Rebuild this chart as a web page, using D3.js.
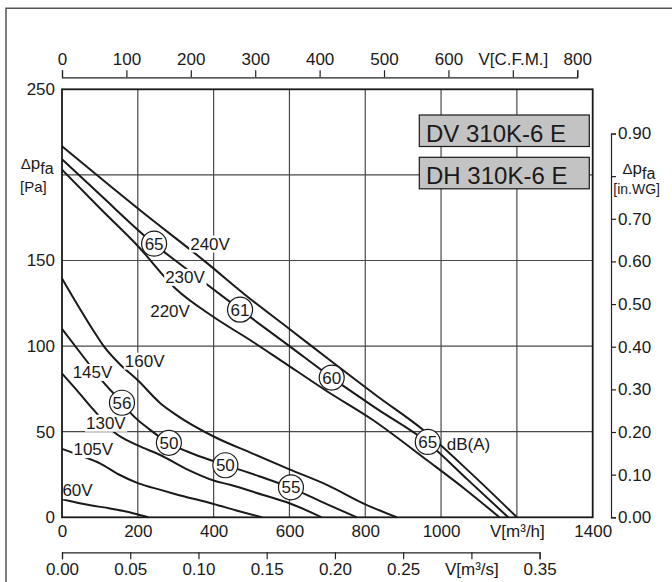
<!DOCTYPE html>
<html><head><meta charset="utf-8">
<script src="https://cdn.jsdelivr.net/npm/d3@7"></script>
<style>
body{margin:0;background:#fff}
svg{display:block;font-family:"Liberation Sans",Arial,Helvetica,sans-serif}
</style>
</head><body>
<svg id="chart" width="672" height="582"></svg>
<script>
// ---------------- data ----------------
const flowTicks = [0, 200, 400, 600, 800, 1000, 1200, 1400];
const flowTickLabels = ["0", "200", "400", "600", "800", "1000", "V[m³/h]", "1400"];
const paTicks = [0, 50, 100, 150, 200, 250];
const paTickLabels = ["0", "50", "100", "150", "", "250"];
const cfmTicks = [0, 100, 200, 300, 400, 500, 600, 700, 800];
const cfmTickLabels = ["0", "100", "200", "300", "400", "500", "600", "V[C.F.M.]", "800"];
const m3sTicks = [0, 0.05, 0.10, 0.15, 0.20, 0.25, 0.30, 0.35];
const m3sTickLabels = ["0.00", "0.05", "0.10", "0.15", "0.20", "0.25", "V[m³/s]", "0.35"];
const inwgTicks = [0, 0.1, 0.2, 0.3, 0.4, 0.5, 0.6, 0.7, 0.8, 0.9];
const inwgTickLabels = ["0.00", "0.10", "0.20", "0.30", "0.40", "0.50", "0.60", "0.70", "", "0.90"];
const modelNames = ["DV 310K-6 E", "DH 310K-6 E"];

// fan curves: [flow m³/h, static pressure Pa]
const curve240V = [[0,216.7],[100,198.5],[206,179.3],[377,149.5],[496,127.7],[600,110],[707,91.7],[830,71],[953,51],[1080,25.5],[1200,0]];
const curve230V = [[0,209.1],[100,188.5],[241,160],[350,141.5],[470,121.3],[600,100],[711.5,81.6],[830,63.5],[965,43.6],[1070,22],[1177,0]];
const curve220V = [[0,203.1],[100,180.5],[200,158.5],[300,133.5],[400,117],[500,103],[575,92],[700,73.5],[821,56.7],[965,33],[1060,17],[1154,0]];
const curve160V = [[0,139.5],[34,126.7],[83,109],[110,100],[150,90],[200,80],[260,66.5],[300,60],[400,47.2],[500,37.5],[600,28],[700,18.8],[800,7.6],[883,0]];
const curve145V = [[0,110],[66,91],[105,80],[158,67],[185,60],[230,51.5],[281,43.5],[347,37],[430,30.6],[520,24],[604,17.2],[700,7.5],[778,0]];
const curve130V = [[0,84],[40,74],[83.5,62.7],[136,50],[200,42],[259,36.4],[330,28],[400,21.5],[443.5,19],[531,13],[600,8.2],[685,0]];
const curve105V = [[0,40],[50,36],[100,31.5],[150,25],[200,20],[260,16],[300,13.5],[400,7.8],[460,4],[527,0]];
const curve60V  = [[0,10.5],[40,8.5],[75,7],[127,5.2],[160,3.8],[200,1.6],[228,0]];
const curves = [curve240V, curve230V, curve220V, curve160V, curve145V, curve130V, curve105V, curve60V];

// voltage labels (anchor in data units)
const voltNames = ["240V", "230V", "220V", "160V", "145V", "130V", "105V", "60V"];
const voltLabelFlow = [390.5, 324.5, 285, 218, 80.5, 115.6, 82.6, 40.9];
const voltLabelPa   = [159.9, 140.4, 120.6, 91.5, 84.9, 55.2, 39.8, 15.8];

// sound levels dB(A) on the curves
const soundLevels = ["65", "61", "60", "65", "56", "50", "50", "55"];
const soundFlow   = [243, 469.7, 711.5, 965, 158.2, 282, 431, 604];
const soundPa     = [159.8, 121.3, 81.6, 44, 66.9, 43.5, 30.4, 17.5];
const soundUnit = "dB(A)";
const soundUnitFlow = 1015, soundUnitPa = 43;

// ---------------- scales ----------------
const M3H_PER_CFM = 1.699, PA_PER_INWG = 249.09;
const x = d3.scaleLinear().domain([0, 1400]).range([62, 592.7]);
const y = d3.scaleLinear().domain([0, 250]).range([517.3, 89.3]);
const xCfm = d3.scaleLinear().domain([0, 800]).range([x(0), x(800 * M3H_PER_CFM)]);
const xM3s = d3.scaleLinear().domain([0, 0.35]).range([x(0), x(0.35 * 3600)]);
const yIn = d3.scaleLinear().domain([0, 0.9]).range([y(0), y(0.9 * PA_PER_INWG)]);

const svg = d3.select("#chart");
const INK = "#1a1a1a";

// outer frame
svg.append("path").attr("d", "M6,582V8.3H672").attr("fill", "none").attr("stroke", "#555").attr("stroke-width", 1.5);

// grid
const grid = svg.append("g").attr("stroke", "#484848").attr("stroke-width", 1.2);
grid.selectAll("line.v").data(flowTicks.slice(1, -1)).join("line")
  .attr("x1", d => x(d)).attr("x2", d => x(d)).attr("y1", y(250)).attr("y2", y(0));
grid.selectAll("line.h").data(paTicks.slice(1, -1)).join("line")
  .attr("x1", x(0)).attr("x2", x(1400)).attr("y1", d => y(d)).attr("y2", d => y(d));

// curves
const line = d3.line().x(d => x(d[0])).y(d => y(d[1])).curve(d3.curveMonotoneX);
svg.append("g").selectAll("path").data(curves).join("path")
  .attr("d", line).attr("fill", "none").attr("stroke", INK).attr("stroke-width", 2).attr("stroke-linejoin", "round");

// voltage labels with white backing
const vl = svg.append("g").attr("font-size", 17).attr("fill", INK);
voltNames.forEach((name, i) => {
  const g = vl.append("g");
  const t = g.append("text").attr("x", x(voltLabelFlow[i])).attr("y", y(voltLabelPa[i]))
    .attr("dy", "0.35em").attr("text-anchor", "middle").text(name);
  const b = t.node().getBBox();
  g.insert("rect", "text").attr("x", b.x - 1).attr("y", b.y + 1).attr("width", b.width + 2).attr("height", b.height - 2).attr("fill", "#fff");
});

// sound level circles
const sc = svg.append("g");
soundLevels.forEach((lv, i) => {
  sc.append("circle").attr("cx", x(soundFlow[i])).attr("cy", y(soundPa[i])).attr("r", 12.5)
    .attr("fill", "#fff").attr("stroke", INK).attr("stroke-width", 1.2);
  sc.append("text").attr("x", x(soundFlow[i])).attr("y", y(soundPa[i])).attr("dy", "0.35em")
    .attr("text-anchor", "middle").attr("font-size", 17).attr("fill", INK).text(lv);
});
svg.append("text").attr("x", x(soundUnitFlow)).attr("y", y(soundUnitPa)).attr("dy", "0.35em")
  .attr("font-size", 17).attr("fill", INK).text(soundUnit);

// model boxes
const boxes = svg.append("g");
modelNames.forEach((m, i) => {
  const top = [115, 157.3][i];
  boxes.append("rect").attr("x", 419.3).attr("y", top).attr("width", 170).attr("height", 31.5)
    .attr("fill", "#c3c3c3").attr("stroke", INK).attr("stroke-width", 1.2);
  boxes.append("text").attr("x", 426).attr("y", top + 26.5).attr("font-size", 24).attr("fill", INK).text(m);
});

// plot border
svg.append("rect").attr("x", x(0)).attr("y", y(250)).attr("width", x(1400) - x(0)).attr("height", y(0) - y(250))
  .attr("fill", "none").attr("stroke", INK).attr("stroke-width", 1.8);

// axes
function styleAxis(g) {
  g.attr("font-family", null).attr("font-size", null);
  g.selectAll("text").attr("font-size", 17).attr("fill", INK);
  g.selectAll("line,path").attr("stroke", "#222").attr("stroke-width", 1.2);
}
svg.append("g").attr("transform", "translate(0,77.3)")
  .call(d3.axisTop(xCfm).tickValues(cfmTicks).tickFormat((d, i) => cfmTickLabels[i]).tickSize(7).tickPadding(5))
  .call(styleAxis);
svg.append("g").attr("transform", `translate(0,${y(0)})`)
  .call(d3.axisBottom(x).tickValues(flowTicks).tickFormat((d, i) => flowTickLabels[i]).tickSize(0).tickPadding(8))
  .call(styleAxis).call(g => g.select(".domain").remove());
svg.append("g").attr("transform", "translate(0,552.3)")
  .call(d3.axisBottom(xM3s).tickValues(m3sTicks).tickFormat((d, i) => m3sTickLabels[i]).tickSize(7).tickPadding(4))
  .call(styleAxis);
svg.append("g").attr("transform", `translate(${x(0)},0)`)
  .call(d3.axisLeft(y).tickValues(paTicks).tickFormat((d, i) => paTickLabels[i]).tickSize(0).tickPadding(7))
  .call(styleAxis).call(g => g.select(".domain").remove());
svg.append("g").attr("transform", "translate(611,0)")
  .call(d3.axisRight(yIn).tickValues(inwgTicks).tickFormat((d, i) => inwgTickLabels[i]).tickSize(5).tickSizeOuter(5).tickPadding(2))
  .call(styleAxis);

// axis titles Δp_fa
function dpLabel(xp, yp, unit, unitSize, ux, uy) {
  const t = svg.append("text").attr("x", xp).attr("y", yp).attr("fill", INK);
  t.append("tspan").attr("font-size", 15).text("Δ");
  t.append("tspan").attr("font-size", 17).text("p");
  t.append("tspan").attr("font-size", 16).attr("dy", 5).text("fa");
  svg.append("text").attr("x", ux).attr("y", uy).attr("font-size", unitSize).attr("fill", INK).text(unit);
}
dpLabel(20.7, 169, "[Pa]", 15, 20, 192);
dpLabel(622.5, 174, "[in.WG]", 14, 613.3, 194);
</script>
</body></html>
